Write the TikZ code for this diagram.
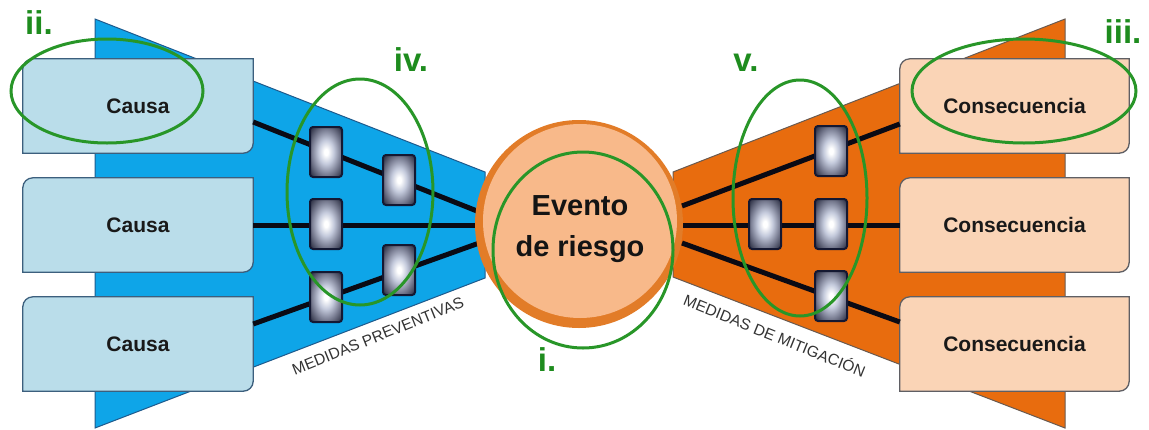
\documentclass[tikz,border=0pt]{standalone}
\usepackage{fontspec}
\setmainfont{Liberation Sans}
\usetikzlibrary{calc}
\definecolor{trapblue}{RGB}{14,165,232}
\definecolor{trapblueline}{RGB}{30,90,140}
\definecolor{traporange}{RGB}{232,108,14}
\definecolor{traporangeline}{RGB}{105,90,80}
\definecolor{causafill}{RGB}{186,221,234}
\definecolor{causaline}{RGB}{60,95,125}
\definecolor{consfill}{RGB}{250,212,182}
\definecolor{consline}{RGB}{95,95,100}
\definecolor{ringorange}{RGB}{226,124,40}
\definecolor{peach}{RGB}{248,185,138}
\definecolor{ellgreen}{RGB}{40,150,40}
\definecolor{lblgreen}{RGB}{30,140,30}
\definecolor{blkline}{RGB}{20,24,50}
\definecolor{blkmid}{RGB}{196,202,220}
\definecolor{blkouter}{RGB}{125,129,150}
\definecolor{blkcorner}{RGB}{55,58,78}
\definecolor{connblack}{RGB}{10,10,20}
\pgfdeclareradialshading{blkshade}{\pgfpoint{0bp}{0bp}}{%
  color(0bp)=(white); color(3bp)=(white); color(12bp)=(blkmid);
  color(22bp)=(blkouter); color(32bp)=(blkcorner); color(50bp)=(blkcorner)}
\pgfdeclarelayer{bg}
\pgfsetlayers{bg,main}
\tikzset{
  boxdim/.style={rectangle, inner sep=0pt, minimum width=230pt, minimum height=94pt,
    font=\fontsize{21}{25}\selectfont\bfseries, text=black!90},
  causabox/.style={fill=causafill, draw=causaline, line width=1.3pt},
  consbox/.style={fill=consfill, draw=consline, line width=1.3pt},
  blk/.style={rectangle, rounded corners=3pt, minimum width=32pt, minimum height=50pt,
    inner sep=0pt, draw=blkline, line width=2pt, shading=blkshade},
  conn/.style={draw=connblack, line width=5pt},
  greenell/.style={draw=ellgreen, line width=3pt},
  lbl/.style={font=\fontsize{33}{36}\selectfont\bfseries, text=lblgreen, inner sep=0pt},
  medlabel/.style={font=\fontsize{15.6}{18}\selectfont, text=black!80, inner sep=0pt},
  evtext/.style={font=\fontsize{29}{41}\selectfont\bfseries, text=black!92, align=center, inner sep=0pt}
}
\begin{document}
\begin{tikzpicture}[x=1pt,y=-1pt]
\useasboundingbox (0,0) rectangle (1149,429);
% boxes (nodes)
\node[boxdim] (c1) at (138,106) {Causa};
\node[boxdim] (c2) at (138,225) {Causa};
\node[boxdim] (c3) at (138,344) {Causa};
\node[boxdim, minimum width=229pt] (k1) at (1014.5,106) {Consecuencia};
\node[boxdim, minimum width=229pt] (k2) at (1014.5,225) {Consecuencia};
\node[boxdim, minimum width=229pt] (k3) at (1014.5,344) {Consecuencia};
\begin{pgfonlayer}{bg}
  \fill[trapblue, draw=trapblueline, line width=1pt] (95,19) -- (485,172) -- (485,278) -- (95,428) -- cycle;
  \fill[traporange, draw=traporangeline, line width=1pt] (1065,19) -- (673,172) -- (673,277) -- (1065,428) -- cycle;
  \foreach \n in {c1,c2,c3}{
    \draw[causabox] (\n.south west) -- ([yshift=-10pt]\n.north west)
      arc[start angle=180,end angle=90,radius=10pt] -- (\n.north east)
      -- ([yshift=10pt]\n.south east) arc[start angle=0,end angle=-90,radius=10pt] -- cycle;
  }
  \foreach \n in {k1,k2,k3}{
    \draw[consbox] (\n.south west) -- ([yshift=-10pt]\n.north west)
      arc[start angle=180,end angle=90,radius=10pt] -- (\n.north east)
      -- ([yshift=10pt]\n.south east) arc[start angle=0,end angle=-90,radius=10pt] -- cycle;
  }
\end{pgfonlayer}
% connector ends under the circle
\coordinate (L1) at (482,213);
\coordinate (L2) at (482,225);
\coordinate (L3) at (482,242);
\coordinate (R1) at (682,206);
\coordinate (R2) at (682,225);
\coordinate (R3) at (682,243);
\draw[conn] ([yshift=-16pt]c1.east) -- (L1);
\draw[conn] (c2.east) -- (L2);
\draw[conn] ([yshift=20pt]c3.east) -- (L3);
\draw[conn] (R1) -- ([yshift=-18pt]k1.west);
\draw[conn] (R2) -- (k2.west);
\draw[conn] (R3) -- ([yshift=22pt]k3.west);
% barrier blocks
\node[blk] (b1) at (326,152) {};
\node[blk] (b2) at (399,180) {};
\node[blk] (b3) at (326,224) {};
\node[blk] (b4) at (326,297) {};
\node[blk] (b5) at (399,270) {};
\node[blk] (b6) at (831,151) {};
\node[blk] (b7) at (765,224) {};
\node[blk] (b8) at (831,224) {};
\node[blk] (b9) at (831,296) {};
% central event
\fill[ringorange] (579,224) circle (104pt);
\fill[peach] (580,221) circle (97pt);
\node[evtext] (ev) at (580,229) {Evento\\de riesgo};
% side labels
\node[medlabel, rotate=22] (mp) at (378,336) {MEDIDAS PREVENTIVAS};
\node[medlabel, rotate=-22] (mm) at (775,335) {MEDIDAS DE MITIGACIÓN};
% green ellipses
\draw[greenell] (583,250) ellipse [x radius=90pt, y radius=98pt];
\draw[greenell] (107,91) ellipse [x radius=96pt, y radius=52pt];
\draw[greenell] (1024,91) ellipse [x radius=112pt, y radius=52pt];
\draw[greenell] (360,192) ellipse [x radius=73pt, y radius=113pt];
\draw[greenell] (800,198) ellipse [x radius=67pt, y radius=118pt];
% green labels
\node[lbl] (li) at (547,360) {i.};
\node[lbl] (lii) at (39,23) {ii.};
\node[lbl] (liii) at (1123,32) {iii.};
\node[lbl] (liv) at (411,60) {iv.};
\node[lbl] (lv) at (746,63) {v.};
\end{tikzpicture}
\end{document}
